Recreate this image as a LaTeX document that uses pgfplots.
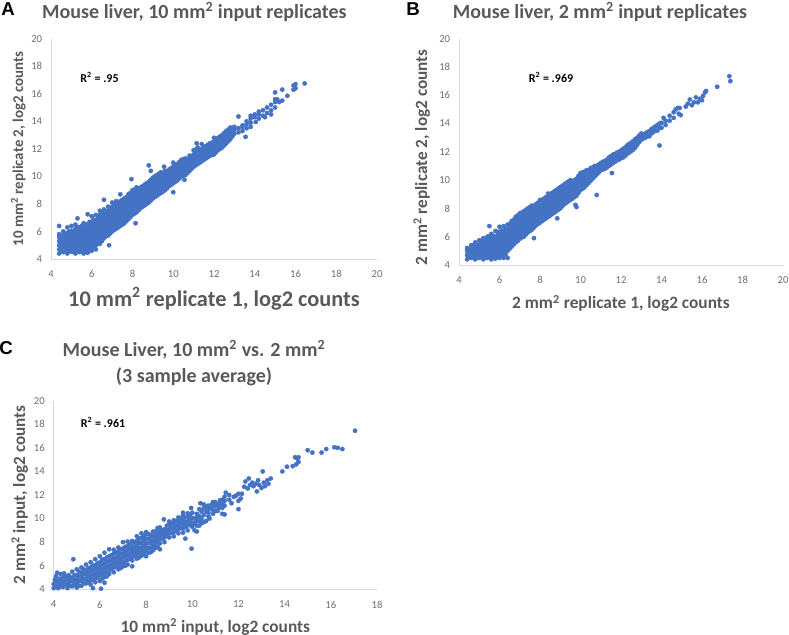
\documentclass[border=0pt]{standalone}
\usepackage{fontspec}
\setmainfont{Carlito}
\newfontfamily\letterfont{Liberation Sans}
\usepackage{pgfplots}
\pgfplotsset{compat=1.18}
\definecolor{dots}{HTML}{4472C4}
\definecolor{titlegray}{HTML}{595959}
\definecolor{tickgray}{HTML}{6E6E6E}
\definecolor{axisgray}{HTML}{D9D9D9}
\newlength{\px}
\setlength{\px}{0.75pt}
\pgfplotsset{
  panel/.style={
    scale only axis,
    axis x line=bottom,
    axis y line=left,
    axis line style={axisgray,-},
    ymin=4, ymax=20,
    ytick={4,6,...,20},
    tick style={draw=none},
    tick label style={tickgray,font=\fontsize{8}{9}\selectfont},
    /pgf/number format/assume math mode=true,
    xticklabel style={yshift=-3pt},
    yticklabel style={xshift=-1pt},
    title style={font=\fontsize{15}{19}\selectfont\bfseries,text=titlegray,align=center,yshift=-6pt},
    xlabel style={text=titlegray,font=\bfseries},
    ylabel style={text=titlegray,font=\bfseries},
  },
  dotstyle/.style={only marks,color=dots,mark=*,mark size=1.65pt,mark options={draw=dots,fill=dots,line width=0.2pt}},
}
\newcommand{\mmsq}{mm\textsuperscript{2}}
\begin{document}
\begin{tikzpicture}[x=\px,y=\px]
\path[use as bounding box] (0,0) rectangle (789,635);

% A
\begin{axis}[panel,at={(51\px,376\px)},anchor=south west,width=326\px,height=220.3\px,
  xmin=4,xmax=20,xtick={4,6,...,20},
  title={Mouse liver, 10 \mmsq{} input replicates},
  title style={at={(axis description cs:0.44,1.12)},anchor=center},
  xlabel={\fontsize{16.75}{19}\selectfont 10 \mmsq{} replicate 1, log2 counts},
  xlabel style={at={(axis description cs:0.5,-0.18)},anchor=center},
  ylabel={\fontsize{11.2}{13}\selectfont 10 \mmsq{} replicate 2, log2 counts},
  ylabel style={at={(axis description cs:-0.1,0.5)},anchor=center,rotate=0},
]
\addplot[dotstyle] coordinates {
(4.4,4.4)(4.4,4.7)(4.4,5.0)(4.4,5.3)(4.4,5.6)(4.4,5.8)(4.4,6.4)
(4.6,4.5)(4.6,4.85)(4.6,5.15)(4.6,5.45)(4.6,5.75)(4.6,6.0)
(4.8,4.4)(4.8,4.7)(4.8,5.0)(4.8,5.3)(4.8,5.6)(4.8,5.9)(4.8,6.3)
(5.0,4.55)(5.0,4.85)(5.0,5.15)(5.0,5.45)(5.0,5.75)(5.0,6.05)(5.0,6.4)
(5.2,4.4)(5.2,4.7)(5.2,5.0)(5.2,5.3)(5.2,5.6)(5.2,5.9)(5.2,6.2)(5.2,6.5)
(5.4,4.5)(5.4,4.8)(5.4,5.1)(5.4,5.4)(5.4,5.7)(5.4,6.0)(5.4,6.3)(5.3,6.95)
(5.6,4.4)(5.6,4.7)(5.6,5.0)(5.6,5.3)(5.6,5.6)(5.6,5.9)(5.6,6.2)(5.6,6.6)
(5.8,4.45)(5.8,4.75)(5.8,5.05)(5.8,5.35)(5.8,5.65)(5.8,5.95)(5.8,6.25)(5.8,6.55)(5.8,7.25)
(6.0,4.6)(6.0,4.9)(6.0,5.2)(6.0,5.5)(6.0,5.8)(6.0,6.1)(6.0,6.4)(6.0,6.7)(6.0,7.1)
(6.2,4.7)(6.2,5.0)(6.2,5.3)(6.2,5.6)(6.2,5.9)(6.2,6.2)(6.2,6.5)(6.2,6.8)(6.2,7.2)
(6.4,5.1)(6.4,5.4)(6.4,5.7)(6.4,6.0)(6.4,6.3)(6.4,6.6)(6.4,6.9)(6.4,7.2)(6.4,7.5)
(6.6,5.5)(6.6,5.8)(6.6,6.1)(6.6,6.4)(6.6,6.7)(6.6,7.0)(6.6,7.3)(6.6,7.6)(6.6,8.3)
(6.85,5.0)(6.8,5.7)(6.8,6.0)(6.8,6.3)(6.8,6.6)(6.8,6.9)(6.8,7.2)(6.8,7.5)(6.8,7.8)
(7.0,6.0)(7.0,6.3)(7.0,6.6)(7.0,6.9)(7.0,7.2)(7.0,7.5)(7.0,7.8)(7.0,8.1)
(7.2,6.2)(7.2,6.5)(7.2,6.8)(7.2,7.1)(7.2,7.4)(7.2,7.7)(7.2,8.0)(7.2,8.2)
(7.4,6.4)(7.4,6.7)(7.4,7.0)(7.4,7.3)(7.4,7.6)(7.4,7.9)(7.4,8.2)(7.4,8.7)
(7.6,6.6)(7.6,6.9)(7.6,7.2)(7.6,7.5)(7.6,7.8)(7.6,8.1)(7.6,8.4)
(7.8,6.9)(7.8,7.2)(7.8,7.5)(7.8,7.8)(7.8,8.1)(7.8,8.4)(7.8,8.7)
(8.0,7.2)(8.0,7.5)(8.0,7.8)(8.0,8.1)(8.0,8.4)(8.0,8.7)(8.0,9.0)(7.95,9.8)(8.15,6.6)
(8.2,7.4)(8.2,7.7)(8.2,8.0)(8.2,8.3)(8.2,8.6)(8.2,8.9)(8.2,9.2)
(8.4,7.7)(8.4,8.0)(8.4,8.3)(8.4,8.6)(8.4,8.9)(8.4,9.2)
(8.6,7.9)(8.6,8.2)(8.6,8.5)(8.6,8.8)(8.6,9.1)(8.6,9.4)
(8.8,8.1)(8.8,8.4)(8.8,8.7)(8.8,9.0)(8.8,9.3)(8.8,9.6)(8.8,10.8)
(9.0,8.4)(9.0,8.7)(9.0,9.0)(9.0,9.3)(9.0,9.6)(9.0,9.9)(8.9,10.4)
(9.2,8.6)(9.2,8.9)(9.2,9.2)(9.2,9.5)(9.2,9.8)(9.2,10.1)
(9.4,8.8)(9.4,9.1)(9.4,9.4)(9.4,9.7)(9.4,10.0)(9.4,10.3)(9.55,10.7)
(9.6,9.0)(9.6,9.3)(9.6,9.6)(9.6,9.9)(9.6,10.2)(9.6,10.4)
(9.8,9.3)(9.8,9.6)(9.8,9.9)(9.8,10.2)(9.8,10.5)(10.0,8.85)
(10.0,9.5)(10.0,9.8)(10.0,10.1)(10.0,10.4)(10.0,10.7)(10.0,11.0)
(10.2,9.7)(10.2,10.0)(10.2,10.3)(10.2,10.6)(10.2,10.9)(10.55,9.75)
(10.4,10.0)(10.4,10.3)(10.4,10.6)(10.4,10.9)(10.4,11.2)
(10.6,10.1)(10.6,10.4)(10.6,10.7)(10.6,11.0)(10.6,11.3)
(10.8,10.4)(10.8,10.7)(10.8,11.0)(10.8,11.3)(10.8,11.5)
(11.0,10.7)(11.0,11.0)(11.0,11.3)(11.0,11.6)(11.0,11.9)
(11.2,10.9)(11.2,11.2)(11.2,11.5)(11.2,11.8)(11.2,12.1)(11.15,12.4)
(11.4,11.1)(11.4,11.4)(11.4,11.7)(11.4,12.0)(11.4,12.35)
(11.6,11.3)(11.6,11.6)(11.6,11.9)(11.6,12.2)
(11.8,11.5)(11.8,11.8)(11.8,12.1)(11.8,12.4)
(12.0,11.6)(12.0,11.9)(12.0,12.2)(12.0,12.5)(12.0,12.8)
(12.2,11.9)(12.2,12.2)(12.2,12.5)(12.2,12.8)
(12.4,12.1)(12.4,12.4)(12.4,12.7)(12.4,13.0)
(12.6,12.4)(12.6,12.7)(12.6,13.0)(12.6,13.3)
(12.8,12.7)(12.8,13.0)(12.8,13.3)(12.8,13.55)
(13.0,13.1)(13.0,13.4)(13.0,13.6)
(13.2,13.2)(13.2,13.5)(13.2,14.35)
(13.4,13.3)(13.4,13.6)(13.4,13.7)(13.55,12.87)
(13.6,13.5)(13.6,13.8)(13.6,14.0)
(13.8,13.6)(13.8,13.9)(13.8,14.2)(13.8,14.4)
(14.05,13.95)(14.0,14.3)(14.0,14.5)
(14.2,14.2)(14.2,14.5)(14.2,14.7)
(14.4,14.4)(14.4,14.8)(14.5,14.3)
(14.6,14.6)(14.6,15.0)(14.8,14.5)
(14.8,14.8)(14.8,15.2)
(15.0,15.0)(15.0,15.4)(15.0,15.6)(15.0,16.1)
(15.1,15.6)(15.2,15.4)(15.35,16.3)(15.35,15.5)
(15.6,15.85)(15.9,16.3)(15.9,16.6)(16.0,16.4)(16.0,16.7)(16.45,16.75)
% dense core of the cloud
(4.5,4.6)(4.5,4.9)(4.5,5.2)(4.5,5.5)
(4.7,4.55)(4.7,4.85)(4.7,5.15)(4.7,5.45)(4.7,5.75)
(4.9,4.55)(4.9,4.85)(4.9,5.15)(4.9,5.45)(4.9,5.75)(4.9,6.0)
(5.1,4.5)(5.1,4.8)(5.1,5.1)(5.1,5.4)(5.1,5.7)(5.1,6.0)
(5.3,4.55)(5.3,4.85)(5.3,5.15)(5.3,5.45)(5.3,5.75)(5.3,6.05)(5.3,6.3)
(5.5,4.6)(5.5,4.9)(5.5,5.2)(5.5,5.5)(5.5,5.8)(5.5,6.1)(5.5,6.4)
(5.7,4.55)(5.7,4.85)(5.7,5.15)(5.7,5.45)(5.7,5.75)(5.7,6.05)(5.7,6.35)
(5.9,4.6)(5.9,4.9)(5.9,5.2)(5.9,5.5)(5.9,5.8)(5.9,6.1)(5.9,6.4)(5.9,6.7)
(6.1,4.75)(6.1,5.05)(6.1,5.35)(6.1,5.65)(6.1,5.95)(6.1,6.25)(6.1,6.55)(6.1,6.85)
(6.3,5.15)(6.3,5.45)(6.3,5.75)(6.3,6.05)(6.3,6.35)(6.3,6.65)(6.3,6.95)
(6.5,5.3)(6.5,5.6)(6.5,5.9)(6.5,6.2)(6.5,6.5)(6.5,6.8)(6.5,7.1)(6.5,7.4)
(6.7,5.65)(6.7,5.95)(6.7,6.25)(6.7,6.55)(6.7,6.85)(6.7,7.15)(6.7,7.45)
(6.9,5.85)(6.9,6.15)(6.9,6.45)(6.9,6.75)(6.9,7.05)(6.9,7.35)(6.9,7.65)
(7.1,6.1)(7.1,6.4)(7.1,6.7)(7.1,7.0)(7.1,7.3)(7.1,7.6)(7.1,7.9)
(7.3,6.3)(7.3,6.6)(7.3,6.9)(7.3,7.2)(7.3,7.5)(7.3,7.8)(7.3,8.1)
(7.5,6.5)(7.5,6.8)(7.5,7.1)(7.5,7.4)(7.5,7.7)(7.5,8.0)(7.5,8.3)
(7.7,6.75)(7.7,7.05)(7.7,7.35)(7.7,7.65)(7.7,7.95)(7.7,8.25)(7.7,8.5)
(7.9,7.05)(7.9,7.35)(7.9,7.65)(7.9,7.95)(7.9,8.25)(7.9,8.55)(7.9,8.8)
(8.1,7.3)(8.1,7.6)(8.1,7.9)(8.1,8.2)(8.1,8.5)(8.1,8.8)(8.1,9.05)
(8.3,7.55)(8.3,7.85)(8.3,8.15)(8.3,8.45)(8.3,8.75)(8.3,9.05)
(8.5,7.8)(8.5,8.1)(8.5,8.4)(8.5,8.7)(8.5,9.0)(8.5,9.3)
(8.7,8.0)(8.7,8.3)(8.7,8.6)(8.7,8.9)(8.7,9.2)(8.7,9.5)
(8.9,8.25)(8.9,8.55)(8.9,8.85)(8.9,9.15)(8.9,9.45)(8.9,9.75)
(9.1,8.5)(9.1,8.8)(9.1,9.1)(9.1,9.4)(9.1,9.7)(9.1,10.0)
(9.3,8.7)(9.3,9.0)(9.3,9.3)(9.3,9.6)(9.3,9.9)(9.3,10.2)
(9.5,8.9)(9.5,9.2)(9.5,9.5)(9.5,9.8)(9.5,10.1)
(9.7,9.15)(9.7,9.45)(9.7,9.75)(9.7,10.05)(9.7,10.35)
(9.9,9.4)(9.9,9.7)(9.9,10.0)(9.9,10.3)(9.9,10.6)
(10.1,9.6)(10.1,9.9)(10.1,10.2)(10.1,10.5)(10.1,10.8)
(10.3,9.85)(10.3,10.15)(10.3,10.45)(10.3,10.75)(10.3,11.05)
(10.5,10.05)(10.5,10.35)(10.5,10.65)(10.5,10.95)(10.5,11.25)
(10.7,10.25)(10.7,10.55)(10.7,10.85)(10.7,11.15)
(10.9,10.55)(10.9,10.85)(10.9,11.15)(10.9,11.45)
(11.1,10.8)(11.1,11.1)(11.1,11.4)(11.1,11.7)(11.1,11.95)
(11.3,11.0)(11.3,11.3)(11.3,11.6)(11.3,11.9)
(11.5,11.2)(11.5,11.5)(11.5,11.8)(11.5,12.1)
(11.7,11.4)(11.7,11.7)(11.7,12.0)(11.7,12.3)
(11.9,11.55)(11.9,11.85)(11.9,12.15)(11.9,12.45)
(12.1,11.75)(12.1,12.05)(12.1,12.35)(12.1,12.65)
(12.3,12.0)(12.3,12.3)(12.3,12.6)(12.3,12.9)
(12.5,12.25)(12.5,12.55)(12.5,12.85)(12.5,13.15)
(12.7,12.55)(12.7,12.85)(12.7,13.15)(12.7,13.4)
(12.9,12.9)(12.9,13.2)(12.9,13.5)
};
\end{axis}

% B
\begin{axis}[panel,at={(459\px,370\px)},anchor=south west,width=324\px,height=226.3\px,
  xmin=4,xmax=20,xtick={4,6,...,20},
  title={Mouse liver, 2 \mmsq{} input replicates},
  title style={at={(axis description cs:0.435,1.12)},anchor=center},
  xlabel={\fontsize{13}{15}\selectfont 2 \mmsq{} replicate 1, log2 counts},
  xlabel style={at={(axis description cs:0.5,-0.17)},anchor=center},
  ylabel={\fontsize{12.9}{15}\selectfont 2 \mmsq{} replicate 2, log2 counts},
  ylabel style={at={(axis description cs:-0.115,0.475)},anchor=center},
]
\addplot[dotstyle] coordinates {
(4.4,4.4)(4.4,4.7)(4.4,5.0)(4.4,5.2)
(4.6,4.5)(4.6,4.8)(4.6,5.1)(4.6,5.4)
(4.8,4.4)(4.8,4.7)(4.8,5.0)(4.8,5.3)(4.8,5.6)
(5.0,4.5)(5.0,4.8)(5.0,5.1)(5.0,5.4)(5.0,5.75)
(5.2,4.4)(5.2,4.7)(5.2,5.0)(5.2,5.3)(5.2,5.6)(5.2,5.9)
(5.4,4.5)(5.4,4.8)(5.4,5.1)(5.4,5.4)(5.4,5.7)(5.4,6.0)(5.5,6.75)
(5.6,4.4)(5.6,4.7)(5.6,5.0)(5.6,5.3)(5.6,5.6)(5.6,5.9)(5.6,6.2)
(5.8,4.45)(5.8,4.75)(5.8,5.05)(5.8,5.35)(5.8,5.65)(5.8,5.95)(5.8,6.4)
(6.0,4.5)(6.0,4.8)(6.0,5.1)(6.0,5.4)(6.0,5.7)(6.0,6.0)(6.0,6.3)(6.0,6.7)
(6.2,4.5)(6.2,4.85)(6.2,5.15)(6.2,5.45)(6.2,5.75)(6.2,6.05)(6.2,6.35)(6.2,6.75)
(6.4,4.5)(6.4,5.0)(6.4,5.3)(6.4,5.6)(6.4,5.9)(6.4,6.2)(6.4,6.5)(6.4,6.85)
(6.6,5.3)(6.6,5.6)(6.6,5.9)(6.6,6.2)(6.6,6.5)(6.6,6.8)(6.6,7.1)
(6.8,5.6)(6.8,5.9)(6.8,6.2)(6.8,6.5)(6.8,6.8)(6.8,7.1)(6.8,7.4)
(7.0,5.85)(7.0,6.15)(7.0,6.45)(7.0,6.75)(7.0,7.05)(7.0,7.35)(7.0,7.65)
(7.2,6.0)(7.2,6.3)(7.2,6.6)(7.2,6.9)(7.2,7.2)(7.2,7.5)(7.2,7.8)
(7.4,6.3)(7.4,6.6)(7.4,6.9)(7.4,7.2)(7.4,7.5)(7.4,7.8)(7.4,8.0)
(7.6,6.5)(7.6,6.8)(7.6,7.1)(7.6,7.4)(7.6,7.7)(7.6,8.0)(7.6,8.2)(7.7,5.9)
(7.8,6.8)(7.8,7.1)(7.8,7.4)(7.8,7.7)(7.8,8.0)(7.8,8.3)
(8.0,7.0)(8.0,7.3)(8.0,7.6)(8.0,7.9)(8.0,8.2)(8.0,8.6)
(8.2,7.2)(8.2,7.5)(8.2,7.8)(8.2,8.1)(8.2,8.4)(8.2,8.7)
(8.4,7.4)(8.4,7.7)(8.4,8.0)(8.4,8.3)(8.4,8.6)(8.4,8.85)(8.4,9.05)
(8.6,7.6)(8.6,7.9)(8.6,8.2)(8.6,8.5)(8.6,8.8)(8.6,9.1)
(8.85,7.3)(8.8,7.8)(8.8,8.1)(8.8,8.4)(8.8,8.7)(8.8,9.0)(8.8,9.3)
(9.0,8.0)(9.0,8.3)(9.0,8.6)(9.0,8.9)(9.0,9.2)(9.0,9.5)
(9.2,8.3)(9.2,8.6)(9.2,8.9)(9.2,9.2)(9.2,9.5)(9.2,9.7)
(9.4,8.5)(9.4,8.8)(9.4,9.1)(9.4,9.4)(9.4,9.7)(9.4,9.9)
(9.6,8.7)(9.6,9.0)(9.6,9.3)(9.6,9.6)(9.6,9.9)
(9.8,8.9)(9.8,9.2)(9.8,9.5)(9.8,9.8)(9.8,10.1)(9.8,8.1)(9.75,8.25)
(10.0,9.3)(10.0,9.6)(10.0,9.9)(10.0,10.2)(10.0,10.5)
(10.2,9.5)(10.2,9.8)(10.2,10.1)(10.2,10.4)(10.2,10.6)
(10.4,9.8)(10.4,10.1)(10.4,10.4)(10.4,10.7)
(10.6,10.1)(10.6,10.4)(10.6,10.7)(10.6,10.9)(10.7,11.0)(10.8,8.95)
(10.8,10.4)(10.8,10.7)(10.8,11.0)
(11.0,10.7)(11.0,10.95)(11.0,11.2)
(11.2,10.8)(11.2,11.1)(11.2,11.35)
(11.4,11.0)(11.4,11.3)(11.4,11.6)(11.55,10.5)
(11.6,11.2)(11.6,11.5)(11.6,11.8)
(11.8,11.4)(11.8,11.7)(11.8,11.95)
(12.0,11.55)(12.0,11.85)(12.0,12.1)
(12.2,11.7)(12.2,12.0)(12.2,12.3)
(12.4,11.95)(12.4,12.25)(12.4,12.55)
(12.6,12.15)(12.6,12.45)(12.6,12.75)
(12.8,12.5)(12.8,12.8)(12.8,13.0)
(13.0,12.85)(13.0,13.1)(13.0,13.3)
(13.2,13.0)(13.2,13.3)
(13.4,13.1)(13.4,13.45)
(13.6,13.4)(13.6,13.7)
(13.8,13.5)(13.8,13.9)(13.9,12.45)
(14.0,13.7)(14.0,14.05)(14.1,14.4)
(14.2,13.9)(14.2,14.2)
(14.4,14.2)(14.4,14.55)
(14.6,14.4)(14.6,14.8)(14.7,15.0)
(14.8,15.1)(14.85,14.7)(14.95,14.6)
(14.9,15.1)(15.2,15.2)(15.3,15.4)(15.4,15.7)
(15.5,15.3)(15.6,15.5)(15.7,15.85)(15.8,15.5)(15.9,15.75)
(16.0,15.65)(16.05,15.95)(16.15,16.2)(16.2,16.3)
(16.75,16.6)(17.35,17.35)(17.4,17.0)
% dense core of the cloud
(4.5,4.55)(4.5,4.85)(4.5,5.1)
(4.7,4.55)(4.7,4.85)(4.7,5.15)(4.7,5.4)
(4.9,4.55)(4.9,4.85)(4.9,5.15)(4.9,5.45)
(5.1,4.6)(5.1,4.9)(5.1,5.2)(5.1,5.5)(5.1,5.7)
(5.3,4.55)(5.3,4.85)(5.3,5.15)(5.3,5.45)(5.3,5.75)
(5.5,4.6)(5.5,4.9)(5.5,5.2)(5.5,5.5)(5.5,5.8)(5.5,6.05)
(5.7,4.55)(5.7,4.85)(5.7,5.15)(5.7,5.45)(5.7,5.75)(5.7,6.05)
(5.9,4.6)(5.9,4.9)(5.9,5.2)(5.9,5.5)(5.9,5.8)(5.9,6.1)(5.9,6.35)
(6.1,4.65)(6.1,4.95)(6.1,5.25)(6.1,5.55)(6.1,5.85)(6.1,6.15)(6.1,6.45)
(6.3,4.75)(6.3,5.05)(6.3,5.35)(6.3,5.65)(6.3,5.95)(6.3,6.25)(6.3,6.55)
(6.5,5.15)(6.5,5.45)(6.5,5.75)(6.5,6.05)(6.5,6.35)(6.5,6.65)(6.5,6.9)
(6.7,5.45)(6.7,5.75)(6.7,6.05)(6.7,6.35)(6.7,6.65)(6.7,6.95)(6.7,7.2)
(6.9,5.7)(6.9,6.0)(6.9,6.3)(6.9,6.6)(6.9,6.9)(6.9,7.2)(6.9,7.5)
(7.1,5.95)(7.1,6.25)(7.1,6.55)(7.1,6.85)(7.1,7.15)(7.1,7.45)(7.1,7.7)
(7.3,6.15)(7.3,6.45)(7.3,6.75)(7.3,7.05)(7.3,7.35)(7.3,7.65)(7.3,7.9)
(7.5,6.4)(7.5,6.7)(7.5,7.0)(7.5,7.3)(7.5,7.6)(7.5,7.9)(7.5,8.1)
(7.7,6.65)(7.7,6.95)(7.7,7.25)(7.7,7.55)(7.7,7.85)(7.7,8.15)
(7.9,6.9)(7.9,7.2)(7.9,7.5)(7.9,7.8)(7.9,8.1)(7.9,8.4)
(8.1,7.1)(8.1,7.4)(8.1,7.7)(8.1,8.0)(8.1,8.3)(8.1,8.6)
(8.3,7.3)(8.3,7.6)(8.3,7.9)(8.3,8.2)(8.3,8.5)(8.3,8.8)
(8.5,7.5)(8.5,7.8)(8.5,8.1)(8.5,8.4)(8.5,8.7)(8.5,9.0)
(8.7,7.7)(8.7,8.0)(8.7,8.3)(8.7,8.6)(8.7,8.9)(8.7,9.2)
(8.9,7.9)(8.9,8.2)(8.9,8.5)(8.9,8.8)(8.9,9.1)(8.9,9.4)
(9.1,8.15)(9.1,8.45)(9.1,8.75)(9.1,9.05)(9.1,9.35)(9.1,9.6)
(9.3,8.4)(9.3,8.7)(9.3,9.0)(9.3,9.3)(9.3,9.6)(9.3,9.8)
(9.5,8.6)(9.5,8.9)(9.5,9.2)(9.5,9.5)(9.5,9.8)(9.5,10.0)
(9.7,8.8)(9.7,9.1)(9.7,9.4)(9.7,9.7)(9.7,10.0)
(9.9,9.1)(9.9,9.4)(9.9,9.7)(9.9,10.0)(9.9,10.3)
(10.1,9.4)(10.1,9.7)(10.1,10.0)(10.1,10.3)(10.1,10.55)
(10.3,9.65)(10.3,9.95)(10.3,10.25)(10.3,10.55)(10.3,10.7)
(10.5,9.95)(10.5,10.25)(10.5,10.55)(10.5,10.85)
(10.7,10.25)(10.7,10.55)(10.7,10.85)
(10.9,10.55)(10.9,10.85)(10.9,11.1)
(11.1,10.75)(11.1,11.05)(11.1,11.3)
(11.3,10.9)(11.3,11.2)(11.3,11.45)
(11.5,11.1)(11.5,11.4)(11.5,11.7)
(11.7,11.3)(11.7,11.6)(11.7,11.85)
(11.9,11.45)(11.9,11.75)(11.9,12.0)
(12.1,11.6)(12.1,11.9)(12.1,12.2)
(12.3,11.85)(12.3,12.15)(12.3,12.45)
(12.5,12.05)(12.5,12.35)(12.5,12.65)
(12.7,12.3)(12.7,12.6)(12.7,12.9)
(12.9,12.7)(12.9,12.95)(12.9,13.15)
(13.1,12.95)(13.1,13.2)(13.3,13.1)(13.3,13.4)
(13.5,13.3)(13.5,13.6)(13.7,13.5)(13.7,13.8)(13.9,13.7)(13.9,14.0)
};
\end{axis}

% C
\begin{axis}[panel,at={(53.7\px,45.7\px)},anchor=south west,width=323.3\px,height=188.6\px,
  xmin=4,xmax=18,xtick={4,6,...,18},
  title={Mouse Liver, 10 \mmsq{} vs. 2 \mmsq{}\\(3 sample average)},
  title style={at={(axis description cs:0.434,1.2)},anchor=center},
  xlabel={\fontsize{13}{15}\selectfont 10 \mmsq{} input, log2 counts},
  xlabel style={at={(axis description cs:0.5,-0.2)},anchor=center},
  ylabel={\fontsize{12.9}{15}\selectfont 2 \mmsq{} input, log2 counts},
  ylabel style={at={(axis description cs:-0.105,0.5)},anchor=center},
]
\addplot[dotstyle] coordinates {
(4.0,4.1)(4.0,4.45)(4.05,4.8)(4.1,5.1)(4.15,5.4)
(4.2,4.1)(4.2,4.5)(4.25,4.9)(4.3,5.3)
(4.4,4.2)(4.4,4.6)(4.4,5.0)(4.45,5.35)
(4.6,4.1)(4.6,4.45)(4.6,4.85)(4.65,5.2)
(4.8,4.25)(4.8,4.65)(4.8,5.0)(4.8,5.5)(4.85,6.55)
(5.0,4.15)(5.0,4.5)(5.0,4.85)(5.0,5.2)(5.0,5.7)
(5.2,4.3)(5.2,4.7)(5.2,5.05)(5.2,5.4)(5.2,5.85)
(5.4,4.5)(5.4,4.85)(5.4,5.25)(5.4,5.6)(5.4,6.1)
(5.6,4.4)(5.6,4.75)(5.6,5.1)(5.6,5.5)(5.6,5.85)(5.6,6.3)
(5.7,4.1)(5.8,4.6)(5.8,4.95)(5.8,5.3)(5.8,5.7)(5.8,6.05)(5.8,6.55)
(6.0,4.7)(6.0,5.2)(6.0,5.55)(6.0,5.95)(6.0,6.3)(6.0,6.8)(6.05,4.05)
(6.2,4.55)(6.2,5.05)(6.2,5.4)(6.2,5.8)(6.2,6.15)(6.2,6.55)(6.2,7.1)
(6.4,5.3)(6.4,5.65)(6.4,6.0)(6.4,6.4)(6.4,6.8)(6.4,7.4)
(6.6,5.45)(6.6,5.85)(6.6,6.2)(6.6,6.6)(6.6,7.0)(6.6,7.35)
(6.8,5.7)(6.8,6.1)(6.8,6.45)(6.8,6.8)(6.8,7.2)(6.8,7.55)
(7.0,5.95)(7.0,6.3)(7.0,6.7)(7.0,7.05)(7.0,7.45)(7.0,8.0)
(7.2,6.1)(7.2,6.5)(7.2,6.9)(7.2,7.3)(7.2,7.65)(7.2,8.05)
(7.4,5.95)(7.4,6.45)(7.4,6.8)(7.4,7.15)(7.4,7.5)(7.4,7.9)(7.4,8.1)
(7.6,6.6)(7.6,6.95)(7.6,7.3)(7.6,7.7)(7.6,8.1)(7.6,8.5)
(7.8,6.85)(7.8,7.2)(7.8,7.55)(7.8,7.95)(7.8,8.35)(7.8,8.75)
(8.0,6.8)(8.0,7.2)(8.0,7.55)(8.0,7.9)(8.0,8.3)(8.0,8.7)(8.0,8.85)
(8.2,7.15)(8.2,7.5)(8.2,7.9)(8.2,8.25)(8.2,8.6)
(8.4,7.5)(8.4,7.85)(8.4,8.2)(8.4,8.55)(8.4,8.9)
(8.6,7.4)(8.6,7.9)(8.6,8.25)(8.6,8.6)(8.6,8.95)(8.6,9.25)
(8.8,8.0)(8.8,8.4)(8.8,8.75)(8.8,9.1)(8.77,9.93)
(9.0,8.4)(9.0,8.75)(9.0,9.1)(9.0,9.45)(9.0,9.75)
(9.2,8.5)(9.2,8.85)(9.2,9.2)(9.2,9.55)(9.2,9.85)
(9.4,8.75)(9.4,9.1)(9.4,9.45)(9.4,9.8)(9.4,10.1)
(9.6,8.8)(9.6,9.15)(9.6,9.5)(9.6,9.85)(9.6,10.3)(9.6,10.5)
(9.7,8.3)(9.8,9.0)(9.8,9.4)(9.8,9.75)(9.8,10.1)(9.8,10.45)
(9.97,7.45)(10.0,9.3)(10.0,9.65)(10.0,10.05)(10.0,10.5)(9.95,10.9)
(10.2,8.9)(10.2,9.4)(10.2,9.8)(10.2,10.1)(10.2,10.4)
(10.4,9.6)(10.4,10.0)(10.4,10.6)(10.35,11.3)
(10.5,11.2)(10.6,9.8)(10.6,10.6)(10.6,11.0)
(10.7,10.8)(10.75,10.0)(10.8,10.9)(10.85,11.2)
(11.0,10.65)(11.0,11.05)(11.0,11.4)
(11.15,10.9)(11.2,11.25)(11.2,11.55)
(11.3,10.4)(11.4,10.35)(11.4,11.1)(11.4,11.5)(11.4,11.85)(11.45,12.2)
(11.6,11.6)(11.6,12.0)(11.7,11.3)(11.8,11.85)
(11.9,11.95)(12.0,10.8)(12.0,11.5)(12.0,12.1)(12.1,11.7)(12.15,12.1)
(12.25,12.7)(12.3,13.15)(12.4,12.55)(12.45,13.4)(12.5,12.85)
(12.6,13.05)(12.65,12.75)(12.75,12.95)(12.8,12.3)(12.85,13.25)(12.9,12.85)
(13.0,12.6)(13.05,14.0)(13.1,13.05)(13.15,12.75)(13.25,13.25)(13.3,12.95)(13.4,13.4)
(13.9,14.0)(14.1,14.4)(14.35,14.45)(14.5,14.6)(14.45,15.2)(14.55,15.1)(14.6,14.8)(14.6,15.2)
(15.0,15.8)(15.2,15.6)(15.6,15.6)(15.8,15.9)(16.15,16.05)(16.3,16.0)(16.5,15.9)(17.05,17.45)
% dense core of the cloud
(5.1,4.7)(5.1,5.1)(5.3,4.9)(5.3,5.3)(5.5,5.0)(5.5,5.4)(5.7,5.2)(5.7,5.6)(5.9,5.4)(5.9,5.8)
(6.1,5.3)(6.1,5.7)(6.1,6.1)(6.3,5.5)(6.3,5.9)(6.3,6.3)(6.5,5.7)(6.5,6.1)(6.5,6.5)
(6.7,5.9)(6.7,6.3)(6.7,6.7)(6.9,6.2)(6.9,6.6)(6.9,7.0)(7.1,6.4)(7.1,6.8)(7.1,7.2)
(7.3,6.6)(7.3,7.0)(7.3,7.4)(7.5,6.8)(7.5,7.2)(7.5,7.6)(7.7,7.1)(7.7,7.5)(7.7,7.9)
(7.9,7.3)(7.9,7.7)(7.9,8.1)(8.1,7.5)(8.1,7.9)(8.1,8.3)(8.3,7.7)(8.3,8.1)(8.3,8.5)
(8.5,8.0)(8.5,8.4)(8.5,8.8)(8.7,8.3)(8.7,8.7)(8.7,9.0)(8.9,8.6)(8.9,9.0)(8.9,9.4)
(9.1,8.8)(9.1,9.2)(9.1,9.6)(9.3,9.0)(9.3,9.4)(9.3,9.8)(9.5,9.2)(9.5,9.6)(9.5,10.0)
(9.7,9.3)(9.7,9.7)(9.7,10.1)(9.9,9.5)(9.9,9.9)(9.9,10.3)
(4.1,4.3)(4.1,4.7)(4.3,4.3)(4.3,4.7)(4.5,4.4)(4.5,4.8)(4.5,5.1)(4.7,4.3)(4.7,4.7)(4.7,5.0)
(4.9,4.4)(4.9,4.8)(4.9,5.2)(5.1,4.3)(5.1,5.5)(5.3,4.5)(5.3,5.7)(5.5,4.6)(5.5,5.8)
(5.7,4.8)(5.7,6.0)(5.9,5.0)(5.9,6.2)(6.1,4.9)(6.1,6.5)(6.3,5.1)(6.3,6.7)(6.5,6.9)(6.7,7.1)
(6.9,5.8)(6.9,7.4)(7.1,6.0)(7.1,7.6)(7.3,7.8)(7.5,8.0)(7.7,6.7)(7.7,8.3)(7.9,6.95)(7.9,8.5)
(8.1,7.1)(8.1,8.7)(8.3,7.3)(8.3,8.9)(8.5,7.6)(8.5,9.2)
(10.1,9.0)(10.1,9.6)(10.1,10.0)(10.3,9.4)(10.3,9.8)(10.3,10.2)(10.3,10.8)
(10.5,9.7)(10.5,10.3)(10.5,10.9)(10.7,10.2)(10.7,10.5)(10.7,11.1)
(10.9,10.4)(10.9,10.7)(10.9,11.1)(10.9,11.4)(11.1,10.65)(11.1,11.2)
(11.3,10.9)(11.3,11.2)(11.3,11.6)
};
\end{axis}

% panel letters and R squared labels
\node[font=\letterfont\bfseries\fontsize{14}{14}\selectfont] at (8,626) {A};
\node[font=\letterfont\bfseries\fontsize{14}{14}\selectfont] at (413,626) {B};
\node[font=\letterfont\bfseries\fontsize{14}{14}\selectfont] at (6,287) {C};
\node[font=\bfseries\fontsize{9}{10}\selectfont] at (99.5,558) {R\textsuperscript{2} = .95};
\node[font=\bfseries\fontsize{9}{10}\selectfont] at (551,558) {R\textsuperscript{2} = .969};
\node[font=\bfseries\fontsize{9}{10}\selectfont] at (103,213) {R\textsuperscript{2} = .961};
\end{tikzpicture}
\end{document}
